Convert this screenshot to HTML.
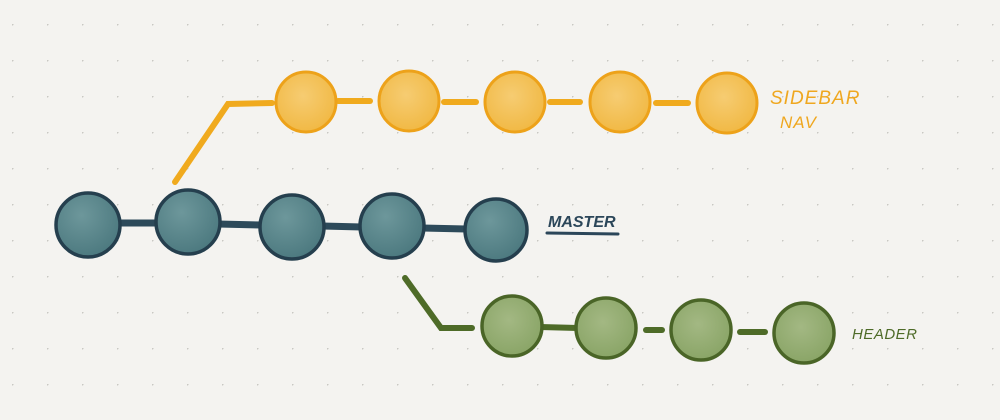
<!DOCTYPE html>
<html><head><meta charset="utf-8"><style>
html,body{margin:0;padding:0;background:#f4f3f0;}
svg{display:block}
text{font-family:"Liberation Sans",sans-serif;font-style:italic;}
</style></head><body>
<svg width="1000" height="420" viewBox="0 0 1000 420" xmlns="http://www.w3.org/2000/svg">
<defs>
<pattern id="dots" x="12" y="24" width="35" height="36" patternUnits="userSpaceOnUse">
<circle cx="0" cy="0" r="1.6" fill="#c9c8c3"/>
</pattern>
<radialGradient id="gy" cx="45%" cy="40%" r="60%"><stop offset="0" stop-color="#f6cc72"/><stop offset="1" stop-color="#f1b945"/></radialGradient>
<radialGradient id="gb" cx="40%" cy="35%" r="65%"><stop offset="0" stop-color="#6d979b"/><stop offset="1" stop-color="#4d7a80"/></radialGradient>
<radialGradient id="gg" cx="45%" cy="40%" r="60%"><stop offset="0" stop-color="#a3b883"/><stop offset="1" stop-color="#8aa567"/></radialGradient>
</defs>
<rect width="1000" height="420" fill="#f4f3f0"/>
<rect width="1000" height="420" fill="url(#dots)"/>
<g stroke="#f0aa1e" stroke-width="6" stroke-linecap="round" fill="none">
<polyline points="175,182 228,104 272,103"/>
<line x1="338" y1="101" x2="370" y2="101"/>
<line x1="444" y1="102" x2="476" y2="102"/>
<line x1="550" y1="102" x2="580" y2="102"/>
<line x1="656" y1="103" x2="688" y2="103"/>
</g>
<g stroke="#eda21a" stroke-width="3" fill="url(#gy)">
<circle cx="306" cy="102" r="30"/>
<circle cx="409" cy="101" r="30"/>
<circle cx="515" cy="102" r="30"/>
<circle cx="620" cy="102" r="30"/>
<circle cx="727" cy="103" r="30"/>
</g>
<text x="770" y="104" font-size="19" fill="#efa71f" letter-spacing="1">SIDEBAR</text>
<text x="780" y="128" font-size="17" fill="#efa71f" letter-spacing="1">NAV</text>
<g stroke="#2d4a5a" stroke-width="7" fill="none">
<line x1="118" y1="223" x2="160" y2="223"/>
<line x1="218" y1="224" x2="262" y2="225"/>
<line x1="322" y1="226" x2="362" y2="227"/>
<line x1="422" y1="228" x2="466" y2="229"/>
</g>
<g stroke="#253f4e" stroke-width="3.5" fill="url(#gb)">
<circle cx="88" cy="225" r="32"/>
<circle cx="188" cy="222" r="32"/>
<circle cx="292" cy="227" r="32"/>
<circle cx="392" cy="226" r="32"/>
<circle cx="496" cy="230" r="31"/>
</g>
<text x="548" y="227" font-size="16" font-weight="bold" fill="#2b4659">MASTER</text>
<line x1="547" y1="233" x2="618" y2="234" stroke="#2b4659" stroke-width="3" stroke-linecap="round"/>
<g stroke="#4e6b28" stroke-width="6" stroke-linecap="round" fill="none">
<polyline points="405,278 441,328 472,328"/>
<line x1="540" y1="327" x2="578" y2="328"/>
<line x1="646" y1="330" x2="662" y2="330"/>
<line x1="740" y1="332" x2="765" y2="332"/>
</g>
<g stroke="#4a6527" stroke-width="3.5" fill="url(#gg)">
<circle cx="512" cy="326" r="30"/>
<circle cx="606" cy="328" r="30"/>
<circle cx="701" cy="330" r="30"/>
<circle cx="804" cy="333" r="30"/>
</g>
<text x="852" y="339" font-size="15" fill="#4e6b28" letter-spacing="0.5">HEADER</text>
</svg>
</body></html>
